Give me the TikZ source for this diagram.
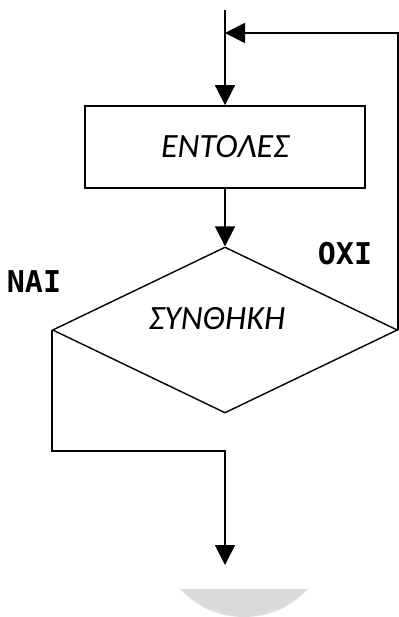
\documentclass[tikz,border=0pt]{standalone}
\usepackage{fontspec}
\setmainfont{Carlito}
\newfontfamily\answerfont{DejaVu Sans Mono}
\usetikzlibrary{shapes.geometric,arrows.meta}

\begin{document}
\begin{tikzpicture}[x=0.5pt,y=-0.5pt,
    flow/.style={line width=0.9pt,-{Triangle[width=10pt,length=10pt]}},
    wording/.style={font=\fontsize{17}{20}\selectfont\itshape},
    stepbox/.style={draw,line width=0.9pt,minimum width=140pt,
      minimum height=41pt,inner sep=0pt,wording},
    testbox/.style={draw,diamond,aspect=2,line width=0.7pt,
      minimum width=172.5pt,minimum height=83pt,inner sep=0pt},
    answer/.style={font=\answerfont\bfseries\fontsize{15}{17}\selectfont}]
    \useasboundingbox (0,0) rectangle (398,617);

    % grey shape cut by the lower edge
    \begin{scope}
      \clip (0,589) rectangle (398,617);
      \fill[black!14] (244,530) circle (43.5pt);
    \end{scope}

    \coordinate (start) at (225,10);
    \coordinate (join) at (225,33);
    \coordinate (stop) at (225,565);
    \node[stepbox] (cmds) at (225,147) {ΕΝΤΟΛΕΣ};
    \node[testbox] (cond) at (225,330) {};
    \node[wording] (condtext) at (217,319) {ΣΥΝΘΗΚΗ};
    \node[answer] (yes) at (34,282) {ΝΑΙ};
    \node[answer] (no) at (345,254) {ΟΧΙ};

    \draw[flow] (start) -- (cmds.north);
    \draw[flow] (cmds.south) -- (cond.north);
    \draw[flow] (cond.east) |- (join);
    \draw[flow] (cond.west) -- ++(0,121) -| (stop);
  \end{tikzpicture}
\end{document}
